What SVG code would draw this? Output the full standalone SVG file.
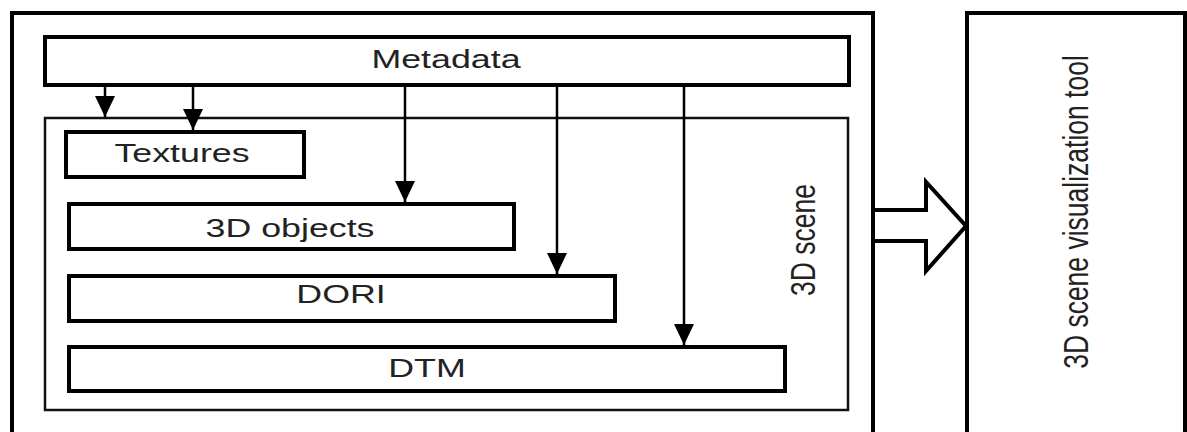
<svg xmlns="http://www.w3.org/2000/svg" width="1187" height="432" viewBox="0 0 1187 432">
  <style>
    .box { fill: none; stroke: #000; stroke-width: 4; }
    .thin { fill: none; stroke: #111; stroke-width: 2.5; }
    .lbl { font-family: "Liberation Sans", Arial, sans-serif; font-size: 26.5px; fill: #222; text-anchor: middle; }
    .conn { stroke: #000; stroke-width: 2.5; fill: none; }
  </style>
  <defs>
    <marker id="ah" markerUnits="userSpaceOnUse" markerWidth="20" markerHeight="21" viewBox="0 0 20 21" refX="10" refY="21" orient="0">
      <polygon points="0,0 20,0 10,21" fill="#000"/>
    </marker>
  </defs>
  <rect width="1187" height="432" fill="#fff"/>

  <g id="outer">
    <rect class="box" x="12" y="13" width="861" height="430"/>
  </g>
  <g id="scene">
    <rect class="thin" x="45" y="118" width="803" height="292"/>
    <text class="lbl" transform="translate(815,240) scale(1.35,1) rotate(-90)">3D scene</text>
  </g>
  <g id="metadata">
    <rect class="box" x="45" y="37" width="804" height="48"/>
    <text class="lbl" transform="translate(446,68) scale(1.35,1)">Metadata</text>
  </g>
  <g id="textures">
    <rect class="box" x="66" y="132" width="238" height="45"/>
    <text class="lbl" transform="translate(182,162) scale(1.35,1)">Textures</text>
  </g>
  <g id="objects3d">
    <rect class="box" x="69" y="204" width="445" height="45"/>
    <text class="lbl" transform="translate(290,237) scale(1.35,1)">3D objects</text>
  </g>
  <g id="dori">
    <rect class="box" x="69" y="276" width="546" height="45"/>
    <text class="lbl" transform="translate(341,303) scale(1.35,1)">DORI</text>
  </g>
  <g id="dtm">
    <rect class="box" x="69" y="347" width="716" height="44"/>
    <text class="lbl" transform="translate(427,377) scale(1.35,1)">DTM</text>
  </g>
  <g id="tool">
    <rect class="box" x="967" y="13" width="218" height="430"/>
    <text class="lbl" transform="translate(1088,212) scale(1.35,1) rotate(-90)">3D scene visualization tool</text>
  </g>

  <g id="connectors">
    <line class="conn" x1="105" y1="87" x2="105" y2="117" marker-end="url(#ah)"/>
    <line class="conn" x1="193" y1="87" x2="193" y2="130" marker-end="url(#ah)"/>
    <line class="conn" x1="405" y1="87" x2="405" y2="202" marker-end="url(#ah)"/>
    <line class="conn" x1="557" y1="87" x2="557" y2="274" marker-end="url(#ah)"/>
    <line class="conn" x1="684" y1="87" x2="684" y2="345" marker-end="url(#ah)"/>
    <polygon points="873,210 926,210 926,182 966,226 926,271 926,241 873,241" fill="#fff" stroke="#000" stroke-width="4" stroke-linejoin="miter"/>
  </g>
</svg>
